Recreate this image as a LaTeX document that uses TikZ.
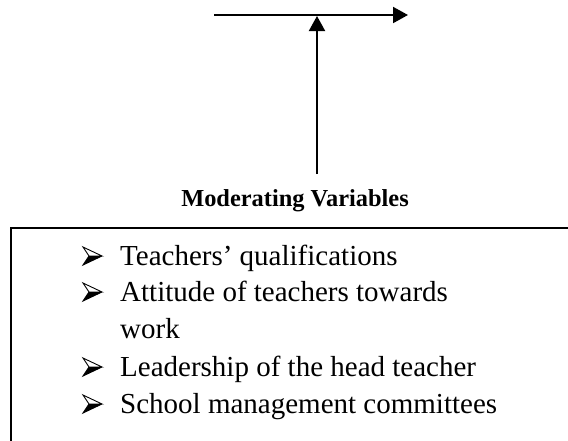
\documentclass[tikz,border=0pt]{standalone}
\usepackage{fontspec}
\setmainfont{Liberation Serif}
\usetikzlibrary{arrows.meta}
\tikzset{
  conn/.style={line width=2pt, -{Triangle[length=15pt,width=16pt]}},
  boxline/.style={line width=2pt},
  itemtext/.style={anchor=base west, inner sep=0pt, font=\fontsize{29}{34}\selectfont},
  titletext/.style={anchor=base, inner sep=0pt, font=\fontsize{24.4}{28}\selectfont\bfseries},
  pics/bul/.style={code={
    \fill[black] (0,0) -- (-13pt,0) -- (-19pt,-9pt) -- cycle;
    \draw[line width=0.9pt, line join=miter] (0,0) -- (-19pt,9pt) -- (-13pt,0) -- cycle;
    \draw[line width=0.9pt, line join=miter] (0,0) -- (-19pt,-9pt) -- (-13pt,0);
  }}
}
\begin{document}
\begin{tikzpicture}[x=1pt,y=-1pt]
\useasboundingbox (0,0) rectangle (568,440);
% top arrows
\coordinate (hs) at (214,15);
\coordinate (he) at (408,15);
\coordinate (vs) at (317,174);
\coordinate (ve) at (317,16);
\draw[conn] (hs) -- (he);
\draw[conn] (vs) -- (ve);
% title
\node[titletext] (title) at (295,206) {Moderating Variables};
% box
\draw[boxline] (580,228) -- (11,228) -- (11,450);
% items
\node[itemtext] (i1) at (120,265) {Teachers’ qualifications};
\node[itemtext] (i2) at (120,301) {Attitude of teachers towards};
\node[itemtext] (i2b) at (120,338) {work};
\node[itemtext] (i3) at (120,376) {Leadership of the head teacher};
\node[itemtext] (i4) at (120,413) {School management committees};
% bullets
\pic at (102,256) {bul};
\pic at (102,292) {bul};
\pic at (102,367) {bul};
\pic at (102,404) {bul};
\end{tikzpicture}
\end{document}
